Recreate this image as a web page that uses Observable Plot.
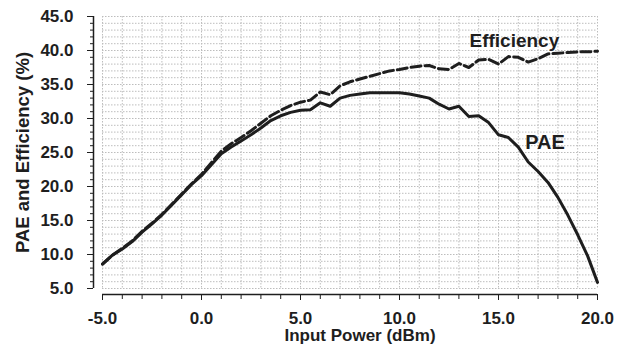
<!DOCTYPE html>
<html><head><meta charset="utf-8">
<script src="https://cdn.jsdelivr.net/npm/d3@7"></script>
<script src="https://cdn.jsdelivr.net/npm/@observablehq/plot@0.6"></script>
<style>body{margin:0;background:#fff;}</style>
</head><body><div id="chart"></div>
<script>
const inputPower = [-5,-4.5,-4,-3.5,-3,-2.5,-2,-1.5,-1,-0.5,0,0.5,1,1.5,2,2.5,3,3.5,4,4.5,5,5.5,6,6.5,7,7.5,8,8.5,9,9.5,10,10.5,11,11.5,12,12.5,13,13.5,14,14.5,15,15.5,16,16.5,17,17.5,18,18.5,19,19.5,20];
const pae = [8.6,9.9,10.8,11.9,13.3,14.5,15.8,17.3,18.8,20.3,21.6,23.2,24.8,25.8,26.7,27.6,28.6,29.7,30.4,30.9,31.2,31.3,32.3,31.8,33.0,33.4,33.6,33.8,33.8,33.8,33.8,33.6,33.3,33.0,32.1,31.4,31.8,30.3,30.4,29.4,27.6,27.2,25.8,23.6,22.2,20.6,18.4,15.8,12.9,9.8,5.9];
const efficiency = [8.6,9.9,10.9,12.0,13.4,14.6,15.9,17.4,18.9,20.4,21.8,23.5,25.2,26.3,27.2,28.2,29.3,30.4,31.2,31.9,32.4,32.7,33.9,33.5,34.8,35.4,35.8,36.2,36.6,37.0,37.2,37.5,37.7,37.8,37.3,37.2,38.1,37.5,38.6,38.7,38.0,39.1,39.0,38.3,38.8,39.5,39.6,39.7,39.8,39.8,39.9];
const xTicks = [-5,0,5,10,15,20];
const yTicks = [5,10,15,20,25,30,35,40,45];
const seriesLabels = ["Efficiency","PAE"];
const xTitle = "Input Power (dBm)";
const yTitle = "PAE and Efficiency (%)";

const paeRows = inputPower.map((p,i)=>({p, v: pae[i]}));
const effRows = inputPower.map((p,i)=>({p, v: efficiency[i]}));
const fmt = d => d.toFixed(1);
const ink = "#1e1e1e";
const gridStyle = {stroke:"#bdbdbd", strokeOpacity:1, strokeDasharray:"1.5,1.5", strokeWidth:1};

const chart = Plot.plot({
  width: 627, height: 346,
  marginLeft: 102, marginRight: 30, marginTop: 16, marginBottom: 58,
  style: {fontFamily: "'Liberation Sans', Arial, sans-serif", fontWeight: "bold", color: ink, background: "#fff"},
  x: {domain: [-5, 20]},
  y: {domain: [5, 45]},
  marks: [
    Plot.gridX(d3.range(-5, 21, 1), gridStyle),
    Plot.gridY(d3.range(5, 46, 1), gridStyle),
    Plot.ruleX([-5], {y1: 5, y2: 45, dx: -9, stroke: ink, strokeWidth: 1.5}),
    Plot.ruleY([5], {x1: -5, x2: 20, dy: 6, stroke: ink, strokeWidth: 1.5}),
    Plot.axisY({ticks: d3.range(5, 46, 1), tickSize: 3, dx: -9, tickFormat: () => "", label: null, stroke: ink}),
    Plot.axisY({ticks: yTicks, tickSize: 6, dx: -9, tickPadding: 14, tickFormat: fmt, label: null, fontSize: 17, fontWeight: "bold", fill: ink, stroke: ink}),
    Plot.axisX({ticks: d3.range(-5, 21, 1), tickSize: 5, dy: 6, tickFormat: () => "", label: null, stroke: ink}),
    Plot.axisX({ticks: xTicks, tickSize: 6, dy: 6, tickPadding: 11, tickFormat: fmt, label: null, fontSize: 17, fontWeight: "bold", fill: ink, stroke: ink}),
    Plot.line(paeRows, {x: "p", y: "v", stroke: ink, strokeWidth: 3}),
    Plot.line(effRows, {x: "p", y: "v", stroke: ink, strokeWidth: 3, strokeDasharray: "10,4"}),
    Plot.text([seriesLabels[0]], {x: 15.8, y: 41.4, text: d => d, fontSize: 19, fontWeight: "bold", fill: ink}),
    Plot.text([seriesLabels[1]], {x: 17.35, y: 26.4, text: d => d, fontSize: 20, fontWeight: "bold", fill: ink}),
    Plot.text([xTitle], {frameAnchor: "bottom", textAnchor: "middle", lineAnchor: "middle", dx: 10, dy: 47, text: d => d, fontSize: 17, fontWeight: "bold", fill: ink}),
    Plot.text([yTitle], {frameAnchor: "left", textAnchor: "middle", lineAnchor: "middle", dx: -79, rotate: -90, text: d => d, fontSize: 18.5, fontWeight: "bold", fill: ink})
  ]
});
document.getElementById("chart").appendChild(chart);
</script>
</body></html>
